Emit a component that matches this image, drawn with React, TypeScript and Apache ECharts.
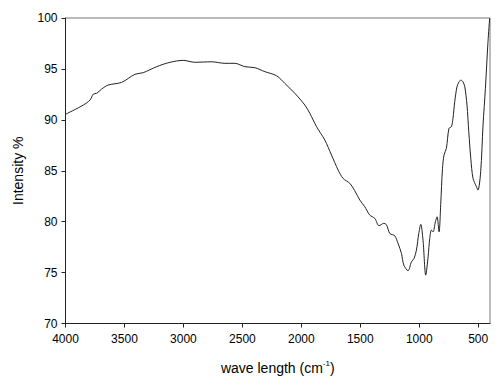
import React, { useEffect, useRef } from "react";
import * as echarts from "echarts";

const waveNumbers = [
  4000, 3849, 3792, 3764, 3736, 3693, 3637, 3524, 3411, 3341, 3227, 3114, 3002,
  2903, 2761, 2648, 2564, 2479, 2394, 2309, 2210, 2140, 2055, 1970, 1928, 1871,
  1801, 1744, 1688, 1646, 1589, 1547, 1504, 1462, 1420, 1377, 1341, 1301, 1278,
  1250, 1208, 1180, 1151, 1131, 1095, 1066, 1044, 1024, 1004, 987, 968, 945,
  925, 911, 897, 883, 863, 849, 832, 818, 803, 790, 770, 748, 727, 714, 699,
  680, 664, 648, 630, 614, 595, 580, 563, 544, 515, 502, 479, 459, 439, 417, 403,
];
const intensity = [
  90.54, 91.45, 91.94, 92.53, 92.6, 93.03, 93.42, 93.68, 94.47, 94.63, 95.22,
  95.65, 95.84, 95.65, 95.7, 95.55, 95.55, 95.22, 95.12, 94.73, 94.33, 93.58,
  92.6, 91.45, 90.64, 89.33, 88.02, 86.54, 85.07, 84.25, 83.76, 83.04, 82.12,
  81.47, 80.65, 80.32, 79.6, 79.83, 79.7, 78.85, 78.62, 77.87, 76.88, 75.74,
  75.18, 76.06, 76.39, 77.21, 78.85, 79.73, 78.19, 74.75, 76.55, 78.36, 79.17,
  79.0, 79.99, 80.48, 79.0, 81.7, 85.2, 86.54, 87.2, 89.16, 89.33, 90.14,
  91.78, 93.25, 93.7, 93.9, 93.75, 93.25, 91.45, 88.83, 86.22, 84.25, 83.43,
  83.1, 84.9, 89.49, 93.09, 97.67, 99.97,
];
const xTicks = [500, 1000, 1500, 2000, 2500, 3000, 3500, 4000];

export default function App() {
  const ref = useRef<HTMLDivElement>(null);
  useEffect(() => {
    if (!ref.current) return;
    const chart = echarts.init(ref.current, null, { renderer: "svg" });
    const font = "Liberation Sans, Arial, sans-serif";
    chart.setOption({
      animation: false,
      grid: {
        left: 65.5,
        right: 10,
        top: 18,
        bottom: 61.5,
        show: true,
        borderColor: "#777",
        borderWidth: 1,
      },
      xAxis: {
        type: "value",
        inverse: true,
        min: 400,
        max: 4000,
        name: "wave length (cm{sup|-1})",
        nameLocation: "middle",
        nameGap: 36,
        nameTextStyle: {
          fontFamily: font,
          fontSize: 14,
          color: "#000",
          lineHeight: 16,
          rich: {
            sup: { fontSize: 8, fontFamily: font, color: "#000", verticalAlign: "top", lineHeight: 16 },
          },
        },
        axisLine: { show: true, lineStyle: { color: "#222", width: 1 } },
        axisTick: { show: true, length: 4, customValues: xTicks, lineStyle: { color: "#222" } },
        axisLabel: {
          customValues: xTicks,
          margin: 9,
          fontFamily: font,
          fontSize: 12,
          color: "#000",
          formatter: (v: number) => String(v),
        },
        splitLine: { show: false },
      },
      yAxis: {
        type: "value",
        min: 70,
        max: 100,
        interval: 5,
        name: "Intensity %",
        nameLocation: "middle",
        nameGap: 41,
        nameTextStyle: { fontFamily: font, fontSize: 14, color: "#000" },
        axisLine: { show: true, lineStyle: { color: "#222", width: 1 } },
        axisTick: { show: true, length: 4, lineStyle: { color: "#222" } },
        axisLabel: { margin: 8, fontFamily: font, fontSize: 12, color: "#000" },
        splitLine: { show: false },
      },
      series: [
        {
          type: "line",
          data: waveNumbers.map((w, i) => [w, intensity[i]]),
          showSymbol: false,
          smooth: 0.3,
          lineStyle: { color: "#222", width: 1 },
        },
      ],
    });
    return () => chart.dispose();
  }, []);
  return (
    <div
      ref={ref}
      style={{ position: "fixed", left: 0, top: 0, width: 500, height: 385, background: "#fff" }}
    />
  );
}
